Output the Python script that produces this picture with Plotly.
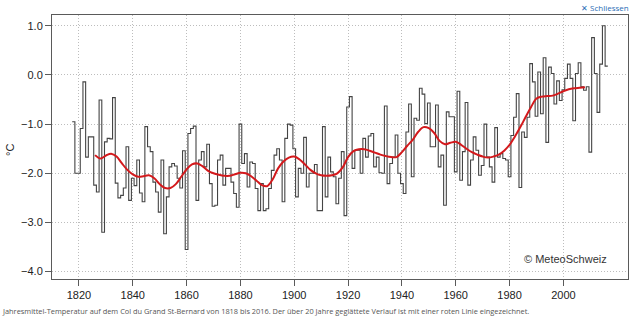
import plotly.graph_objects as go

# ---- data ----
first_year = 1818
temps = [
    -0.95, -2.0,
    -2.0, -1.09, -0.14, -1.67, -1.26, -1.26, -2.24, -2.38, -0.51, -3.2,
    -1.36, -1.29, -1.30, -0.46, -2.2, -2.5, -2.45, -2.3, -1.46, -2.55,
    -2.1, -2.25, -1.73, -2.4, -2.58, -1.05, -1.46, -1.56, -2.18, -2.38,
    -2.79, -1.73, -3.23, -2.48, -1.87, -1.8, -1.85, -2.1, -2.3, -1.54,
    -3.55, -1.19, -1.09, -1.04, -2.55, -1.73, -1.56, -1.87, -1.41, -2.21,
    -2.67, -2.65, -1.73, -1.63, -2.24, -1.9, -1.9, -2.18, -2.41, -2.69,
    -1.0, -1.8, -1.6, -2.28, -1.77, -1.8, -2.31, -2.76, -2.21, -2.76,
    -2.72, -2.31, -1.94, -1.63, -1.5, -1.73, -2.58, -1.29, -1.0, -1.02,
    -1.5, -2.48, -1.9, -2.0, -1.27, -2.28, -2.0, -2.0, -1.82, -2.76,
    -2.76, -1.05, -2.48, -1.67, -1.97, -2.07, -2.62, -2.1, -1.56, -2.86,
    -0.65, -0.44, -1.9, -1.53, -1.53, -2.0, -1.29, -1.67, -1.24, -1.19,
    -1.87, -1.67, -1.99, -2.0, -0.63, -2.21, -1.8, -1.67, -1.22, -2.0,
    -2.21, -2.41, -1.16, -0.59, -2.07, -0.88, -0.92, -0.27, -0.39, -0.99,
    -0.57, -1.46, -1.46, -0.61, -1.87, -1.63, -2.65, -0.75, -0.85, -0.85,
    -1.97, -0.33, -2.14, -1.56, -0.56, -2.24, -1.73, -1.26, -1.53, -2.04,
    -1.84, -1.0, -1.67, -1.87, -2.18, -1.07, -1.67, -1.6, -1.7, -1.73,
    -2.07, -1.23, -0.86, -0.38, -2.29, -1.16, -1.27, -0.86, 0.23, -0.14,
    -0.84, 0.06, -0.79, 0.35, -1.37, 0.16, 0.03, -0.59, -0.12, -0.52,
    -0.3, -0.07, 0.22, -0.07, -0.93, 0.03, 0.25, -0.24, -0.31, -0.24,
    -1.57, 0.76, 0.03, -0.76, 0.22, 1.0, 0.18,
]
years = list(range(first_year, first_year + len(temps)))

smooth_years = list(range(1826, 2009, 2))
smooth_vals = [
    -1.63, -1.70, -1.64, -1.60, -1.66, -1.80, -1.93,
    -2.02, -2.07, -2.06, -2.04, -2.10,
    -2.22, -2.30, -2.30, -2.22, -2.07,
    -1.92, -1.82, -1.80, -1.86, -1.95,
    -2.00, -2.03, -2.05, -2.05, -2.02,
    -1.99, -2.00, -2.06, -2.15, -2.24,
    -2.26, -2.12, -1.90, -1.76, -1.68,
    -1.66, -1.72, -1.82, -1.93, -2.00,
    -2.04, -2.05, -2.04, -2.00, -1.88,
    -1.67, -1.55, -1.51, -1.51, -1.54,
    -1.58, -1.62, -1.65, -1.67, -1.67,
    -1.57, -1.44, -1.32, -1.16, -1.06,
    -1.08, -1.18, -1.34, -1.41, -1.38,
    -1.36, -1.42, -1.50, -1.57, -1.62,
    -1.66, -1.68, -1.66, -1.62, -1.54,
    -1.42, -1.25, -1.06, -0.85, -0.65,
    -0.48, -0.44, -0.43, -0.42, -0.38,
    -0.33, -0.29, -0.27, -0.26, -0.25,
]

x_ticks = list(range(1820, 2001, 20))
y_ticks = [1.0, 0.0, -1.0, -2.0, -3.0, -4.0]

# ---- layout constants ----
W, H = 635, 322
ML, MR, MT, MB = 52, 7, 15, 43
PW, PH = W - ML - MR, H - MT - MB

def px_to_paper(px, py):
    return (px - ML) / PW, (H - MB - py) / PH

# step edges centred on each year
step_x = [y - 0.5 for y in years] + [years[-1] + 0.5]
step_y = temps + [temps[-1]]

fig = go.Figure()
fig.add_trace(go.Scatter(
    x=step_x, y=step_y, mode="lines", line_shape="hv",
    line=dict(color="#444444", width=1.1), hoverinfo="skip", showlegend=False,
))
fig.add_trace(go.Scatter(
    x=smooth_years, y=smooth_vals, mode="lines", line_shape="spline",
    line=dict(color="#d3191c", width=2), hoverinfo="skip", showlegend=False,
))

axis_font = dict(family="Liberation Sans, Arial, sans-serif", size=11, color="#222")
common = dict(
    showline=True, linecolor="#5a5a5a", linewidth=1, mirror=True,
    ticks="outside", ticklen=6, tickcolor="#5a5a5a", tickwidth=1,
    showgrid=True, gridcolor="#bdbdbd", griddash="1px,2px", gridwidth=1,
    zeroline=False, tickfont=axis_font,
)
fig.update_xaxes(range=[1810, 2024], tickvals=x_ticks, **common)
fig.update_yaxes(range=[-4.15, 1.22], tickvals=y_ticks, tickformat=".1f", **common)

cx, cy = px_to_paper(0, 311)
sx, sy = px_to_paper(630, 1)
mx, my = px_to_paper(565, 259)
ux, uy = px_to_paper(10, 150)

fig.update_layout(
    width=W, height=H,
    margin=dict(l=ML, r=MR, t=MT, b=MB, pad=0),
    paper_bgcolor="white", plot_bgcolor="white",
    annotations=[
        dict(text="Jahresmittel-Temperatur auf dem Col du Grand St-Bernard von 1818 bis 2016. "
                  "Der über 20 Jahre geglättete Verlauf ist mit einer roten Linie eingezeichnet.",
             xref="paper", yref="paper", x=cx, y=cy, xanchor="left", yanchor="middle",
             showarrow=False, font=dict(family="Open Sans, sans-serif", size=7.4, color="#555")),
        dict(text="✕ Schliessen", xref="paper", yref="paper", x=sx, y=sy,
             xanchor="right", yanchor="top", showarrow=False, borderpad=0,
             font=dict(family="Open Sans, sans-serif", size=8, color="#2a6db5")),
        dict(text="© MeteoSchweiz", xref="paper", yref="paper", x=mx, y=my,
             xanchor="center", yanchor="middle", showarrow=False,
             font=dict(family="Liberation Sans, Arial, sans-serif", size=11, color="#333")),
        dict(text="°C", xref="paper", yref="paper", x=ux, y=uy, textangle=-90,
             xanchor="center", yanchor="middle", showarrow=False,
             font=dict(family="Liberation Sans, Arial, sans-serif", size=11, color="#222")),
    ],
)

fig.write_html("out.html")
